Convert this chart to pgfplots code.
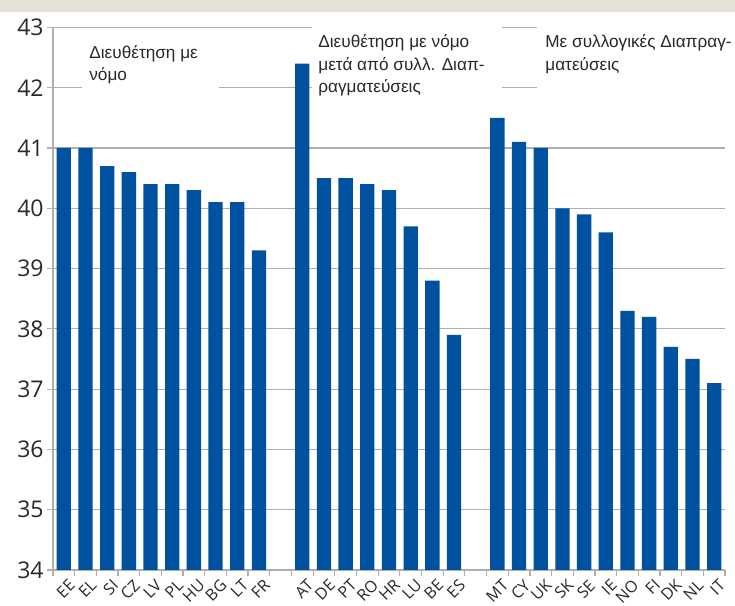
\documentclass[border=0pt]{standalone}
\usepackage{pgfplots}
\pgfplotsset{compat=1.18}
\usepackage{pgfplotstable}
\usepackage{fontspec}
\setmainfont{Liberation Sans}
\newfontfamily\tickfont{Open Sans}
\definecolor{barblue}{RGB}{0,82,160}
\definecolor{gridgray}{RGB}{175,175,175}
\definecolor{beige}{RGB}{231,226,217}
\definecolor{txt}{RGB}{40,40,40}
\pgfplotstableread{
x y
0 41.0
1 41.0
2 40.7
3 40.6
4 40.4
5 40.4
6 40.3
7 40.1
8 40.1
9 39.3
11 42.4
12 40.5
13 40.5
14 40.4
15 40.3
16 39.7
17 38.8
18 37.9
20 41.5
21 41.1
22 41.0
23 40.0
24 39.9
25 39.6
26 38.3
27 38.2
28 37.7
29 37.5
30 37.1
}\data
\begin{document}
\begin{tikzpicture}[x=1bp,y=1bp]
\path[use as bounding box] (0,0) rectangle (367.5,303);
\fill[beige] (0,297) rectangle (367.5,303);
\begin{axis}[
  at={(26.5bp,18bp)}, anchor=south west,
  scale only axis, width=336bp, height=271.3bp,
  xmin=-0.5, xmax=30.5, ymin=34, ymax=43,
  axis x line=bottom, axis y line=left,
  axis line style={-, draw=gridgray, line width=0.7pt},
  tick align=outside, major tick length=3bp,
  tick style={draw=gridgray, line width=0.6pt},
  ytick={34,35,...,43},
  ymajorgrids, grid style={draw=gridgray, line width=0.6pt},
  yticklabel style={font=\tickfont\fontsize{11.5bp}{11.5bp}\selectfont, text=txt, inner sep=1.5bp},
  /pgf/number format/assume math mode=true,
  xtick={-0.5,0.5,...,30.5}, xticklabels={},
  extra x ticks={0,1,2,3,4,5,6,7,8,9,11,12,13,14,15,16,17,18,20,21,22,23,24,25,26,27,28,29,30},
  extra x tick labels={EE,EL,SI,CZ,LV,PL,HU,BG,LT,FR,AT,DE,PT,RO,HR,LU,BE,ES,MT,CY,UK,SK,SE,IE,NO,FI,DK,NL,IT},
  extra x tick style={major tick length=0pt, grid=none,
    xticklabel style={font=\tickfont\fontsize{8bp}{8bp}\selectfont, text=txt, yshift=-4bp, xshift=2bp, rotate=45, anchor=north east, inner sep=0pt}},
]
\addplot[ybar, bar width=0.66, fill=barblue, draw=none] table[x=x, y=y] {\data};
\end{axis}
% white label boxes
\fill[white] (41,253) rectangle (109.5,288);
\fill[white] (156,247) rectangle (251,297);
\fill[white] (268.5,247) rectangle (367.5,297);
\begin{scope}[every node/.style={anchor=base west, inner sep=0pt, text=txt, font=\fontsize{8.6bp}{10bp}\selectfont}]
\node at (44.5,273.5) {Διευθέτηση με};
\node at (44.5,262.5) {νόμο};
\node at (159,279) {Διευθέτηση με νόμο};
\node at (159,267.75) {μετά από συλλ. Διαπ-};
\node at (159,256.5) {ραγματεύσεις};
\node at (272.5,279) {Με συλλογικές Διαπραγ-};
\node at (272.5,267.75) {ματεύσεις};
\end{scope}
\end{tikzpicture}
\end{document}
